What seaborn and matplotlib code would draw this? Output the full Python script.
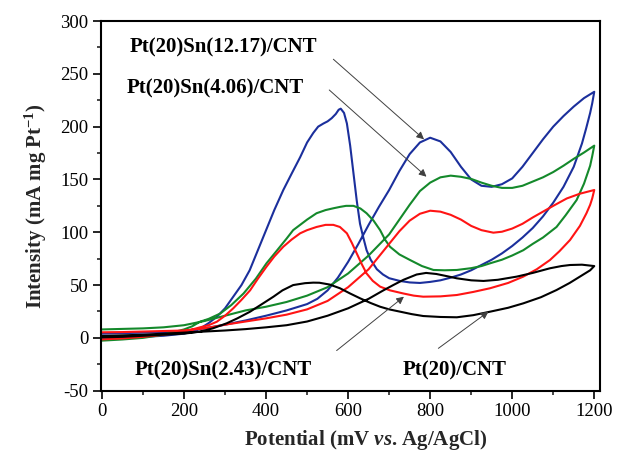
import numpy as np
import pandas as pd
import matplotlib
matplotlib.use("Agg")
import matplotlib.pyplot as plt
from matplotlib.ticker import MultipleLocator
import seaborn as sns

# ---- data (potential in mV, current in mA mg Pt^-1) ----
samples = ["Pt(20)Sn(12.17)/CNT", "Pt(20)Sn(4.06)/CNT", "Pt(20)Sn(2.43)/CNT", "Pt(20)/CNT"]

# Pt(20)Sn(12.17)/CNT (blue)
blue_fwd_x = [0, 50, 100, 150, 200, 250, 300, 350, 400, 450, 500, 525, 550, 575, 600, 625, 650, 675, 700, 725, 750, 775, 800, 825, 850, 875, 900, 925, 950, 975, 1000, 1025, 1050, 1075, 1100, 1125, 1150, 1175, 1200]
blue_fwd_y = [4, 4.5, 5, 5.5, 6.5, 9, 12.5, 16.5, 21, 26, 32, 37, 45, 57, 72, 89, 107, 124, 140, 158, 174, 185, 189.5, 186, 176, 162, 150, 144, 143, 145.5, 151, 162, 175, 188, 200, 210, 219, 227, 233]
blue_bwd_x = [1200, 1195, 1190, 1180, 1170, 1150, 1125, 1100, 1075, 1050, 1025, 1000, 975, 950, 925, 900, 875, 850, 825, 800, 775, 750, 725, 700, 685, 670, 655, 645, 637, 629, 621, 613, 605, 597, 590, 582, 577, 570, 560, 550, 540, 527, 515, 500, 483, 463, 442, 420, 400, 380, 360, 340, 320, 300, 280, 260, 240, 220, 200, 150, 100, 50, 0]
blue_bwd_y = [233, 222, 213, 198, 184, 162, 143, 128, 115, 104, 95, 87, 80, 74, 69, 64, 60, 57, 54.5, 53, 52, 52.5, 54, 56.5, 60, 65, 74, 83, 95, 108, 130, 156, 182, 203, 213, 217, 216, 212, 208, 205, 203, 200, 194, 185, 171, 156, 140, 121, 102, 83, 64, 50, 39, 28, 20, 14, 9, 6, 4, 2, 1, 0.5, 0.2]

# Pt(20)Sn(4.06)/CNT (green)
green_fwd_x = [0, 50, 100, 150, 200, 250, 300, 350, 400, 450, 500, 550, 600, 650, 700, 725, 750, 775, 800, 825, 850, 875, 900, 925, 950, 975, 1000, 1025, 1050, 1075, 1100, 1125, 1150, 1175, 1200]
green_fwd_y = [8, 8.5, 9, 10, 12, 16, 21, 26, 29.5, 34, 40, 48, 61, 78, 98, 112, 126, 139, 147, 152, 153.6, 152.5, 150.5, 147, 144, 142, 142, 144, 148, 152, 157, 163, 169.5, 175.5, 182]
green_bwd_x = [1200, 1195, 1190, 1175, 1157, 1130, 1108, 1075, 1050, 1027, 1000, 975, 946, 925, 900, 865, 835, 808, 780, 751, 725, 702, 690, 678, 662, 645, 630, 613, 595, 580, 564, 545, 523, 500, 483, 466, 450, 425, 401, 375, 345, 315, 288, 260, 239, 220, 200, 150, 100, 50, 0]
green_bwd_y = [182, 172, 163, 146, 130.5, 116, 105, 95, 89, 83, 78, 74, 70.6, 68, 66, 64.3, 64, 64.3, 68, 73.7, 79, 86.3, 93, 102, 111, 118, 122.5, 125, 125, 124, 122.7, 121, 118, 112, 107, 102, 94, 82, 70.6, 56, 42, 31, 23, 18, 15.3, 11, 8, 3, 0, -1.5, -2.6]

# Pt(20)Sn(2.43)/CNT (red)
red_fwd_x = [0, 50, 100, 150, 200, 250, 300, 350, 400, 450, 500, 550, 600, 650, 700, 725, 750, 775, 800, 825, 850, 875, 900, 925, 954, 975, 1000, 1025, 1050, 1075, 1100, 1133, 1165, 1200]
red_fwd_y = [5.3, 5.5, 6, 6.5, 7, 9, 12.5, 15.5, 18.5, 22, 27, 35, 48, 65, 89, 101, 111, 117.5, 120.4, 119.5, 116.5, 112, 106, 102, 99.6, 100.5, 103.5, 108, 114, 119.5, 125, 132, 136.5, 140]
red_bwd_x = [1200, 1195, 1190, 1181, 1165, 1141, 1115, 1092, 1060, 1027, 990, 946, 905, 865, 825, 783, 760, 735, 702, 678, 660, 645, 633, 621, 609, 597, 580, 564, 545, 523, 500, 483, 462, 442, 420, 401, 380, 361, 340, 320, 300, 280, 260, 239, 220, 200, 150, 100, 50, 0]
red_bwd_y = [140, 132, 126, 118, 106, 92.7, 82, 73.7, 65, 58, 52, 47, 43.5, 40.6, 39.3, 39, 40, 42, 45, 48.5, 54, 61, 70, 80, 90, 99, 105, 107, 107, 105, 102, 99, 93, 86.3, 77, 67.4, 56, 45, 36, 28, 21, 15.3, 12, 10, 8, 6, 3, 1, -0.5, -1.4]

# Pt(20)/CNT (black)
black_fwd_x = [0, 50, 100, 150, 200, 250, 300, 350, 400, 450, 500, 550, 600, 650, 686, 710, 735, 767, 790, 815, 840, 865, 900, 930, 965, 1011, 1050, 1092, 1120, 1141, 1170, 1200]
black_fwd_y = [1.8, 2.4, 3, 4, 5, 6, 7, 8.3, 10, 12, 15.5, 21, 28, 37, 45, 50, 55, 60, 61.5, 60.5, 58.5, 56.4, 54.5, 53.9, 55, 58, 61.5, 65.9, 68, 69, 69.3, 68]
black_bwd_x = [1200, 1190, 1165, 1140, 1108, 1070, 1027, 990, 946, 905, 865, 825, 783, 755, 727, 700, 678, 655, 629, 605, 580, 555, 530, 515, 495, 466, 440, 418, 390, 361, 330, 304, 270, 239, 200, 150, 100, 50, 0]
black_bwd_y = [68, 64, 58, 52, 45.3, 38.5, 32.7, 28.5, 24.8, 21.5, 19.5, 19.8, 20.7, 22.5, 24.8, 27, 29.5, 33, 37.5, 42, 47, 50.5, 52.2, 52.3, 51.8, 50, 45, 39, 32, 24.8, 18.5, 13.8, 9, 5.9, 4, 3, 2, 1, 0.5]

colors = ["#1b2f9c", "#14892b", "#ff1414", "#000000"]

# ---- build a long table ----
curves = [
    (blue_fwd_x, blue_fwd_y, blue_bwd_x, blue_bwd_y),
    (green_fwd_x, green_fwd_y, green_bwd_x, green_bwd_y),
    (red_fwd_x, red_fwd_y, red_bwd_x, red_bwd_y),
    (black_fwd_x, black_fwd_y, black_bwd_x, black_bwd_y),
]
frames = []
for name, (fx, fy, bx, by) in zip(samples, curves):
    xs = list(fx) + list(bx)
    ys = list(fy) + list(by)
    frames.append(pd.DataFrame({"Potential": xs, "Current": ys, "Sample": name}))
df = pd.concat(frames, ignore_index=True)

sns.set_theme(style="ticks")
plt.rcParams["font.family"] = ["Liberation Serif", "DejaVu Serif"]
plt.rcParams["axes.unicode_minus"] = False
plt.rcParams["mathtext.fontset"] = "custom"
plt.rcParams["mathtext.rm"] = "Liberation Serif:bold"
plt.rcParams["mathtext.bf"] = "Liberation Serif:bold"
plt.rcParams["mathtext.it"] = "Liberation Serif:bold:italic"

fig = plt.figure(figsize=(6.17, 4.62), dpi=100)
ax = fig.add_axes([101 / 617, 1 - 390.7 / 462, 499 / 617, 369.7 / 462])

sns.lineplot(data=df, x="Potential", y="Current", hue="Sample", palette=colors,
             hue_order=samples, sort=False, estimator=None, units="Sample",
             legend=False, linewidth=1.5, ax=ax)
for ln in ax.lines:
    ln.set_solid_joinstyle("round")

ax.set_xlim(-2.4, 1214)
ax.set_ylim(-50, 300)
ax.xaxis.set_major_locator(MultipleLocator(200))
ax.xaxis.set_minor_locator(MultipleLocator(100))
ax.yaxis.set_major_locator(MultipleLocator(50))
ax.yaxis.set_minor_locator(MultipleLocator(25))
ax.tick_params(which="major", direction="out", length=6, width=1.2, labelsize=13.5, colors="black", pad=3)
ax.tick_params(which="minor", direction="out", length=3, width=1.2)
ax.tick_params(top=False, right=False, which="both")
for s in ax.spines.values():
    s.set_linewidth(1.5)
    s.set_color("black")

ax.set_xlabel("Potential (mV $\\it{vs}$. Ag/AgCl)", fontsize=15, fontweight="bold")
ax.xaxis.set_label_coords(0.531, -0.10)
ax.set_ylabel("Intensity (mA mg Pt$^{-1}$)", fontsize=15, fontweight="bold", labelpad=8)

lab_kw = dict(fontsize=15, fontweight="bold", ha="center", va="center", color="black")
ax.text(295, 275.4, samples[0], **lab_kw)
ax.text(277, 236.3, samples[1], **lab_kw)
ax.text(296, -30.4, samples[2], **lab_kw)
ax.text(860, -30.4, samples[3], **lab_kw)

arr = dict(arrowstyle="-|>", color="0.25", lw=0.7, mutation_scale=11, shrinkA=0, shrinkB=0)
ax.annotate("", xy=(785, 188), xytext=(564, 263.8), arrowprops=arr)
ax.annotate("", xy=(791, 152.6), xytext=(554, 234.7), arrowprops=arr)
ax.annotate("", xy=(736, 39), xytext=(572, -12), arrowprops=arr)
ax.annotate("", xy=(942, 24.8), xytext=(820, -9.9), arrowprops=arr)

fig.savefig("out.png", dpi=100)
